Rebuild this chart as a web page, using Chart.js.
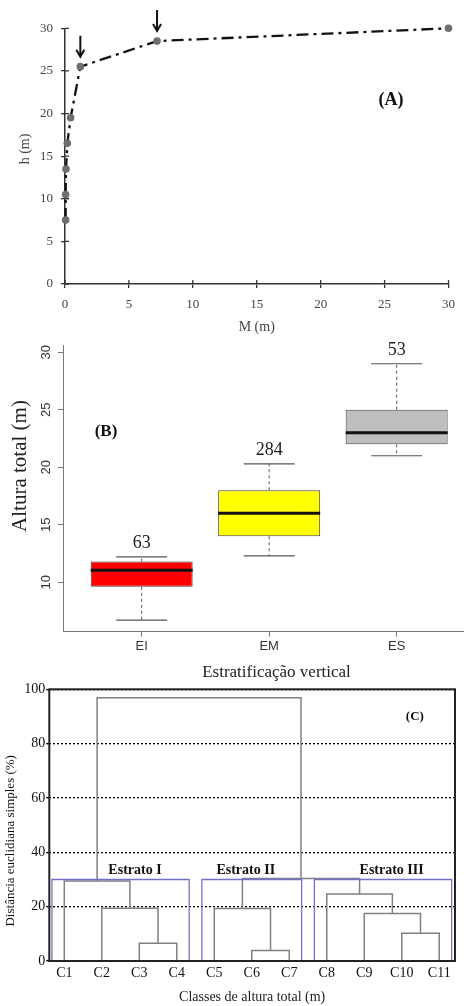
<!DOCTYPE html>
<html>
<head>
<meta charset="utf-8">
<script src="https://cdn.jsdelivr.net/npm/chart.js@4.4.1/dist/chart.umd.min.js"></script>
<style>
  body { margin: 0; background: #fff; width: 464px; height: 1006px; position: relative; overflow: hidden; }
  canvas { position: absolute; left: 0; }
</style>
</head>
<body>
<canvas id="chartA" width="464" height="340" style="top:0px"></canvas>
<canvas id="chartB" width="464" height="360" style="top:330px"></canvas>
<canvas id="chartC" width="464" height="330" style="top:676px"></canvas>
<script>
// Panel A: h vs M
const massM = [0.05, 0.05, 0.08, 0.18, 0.44, 1.2, 7.2, 30];
const heightH = [7.5, 10.5, 13.5, 16.5, 19.5, 25.5, 28.5, 30];
const arrowPoints = [5, 6];
const ticksA = [0, 5, 10, 15, 20, 25, 30];

// Panel B: boxplots per stratum
const strata = ['EI', 'EM', 'ES'];
const whiskerLow = [6.7, 12.3, 21];
const quart1 = [9.6, 14, 22];
const medians = [11.05, 16, 23];
const quart3 = [11.8, 18, 25];
const whiskerHigh = [12.2, 20.3, 29];
const counts = [63, 284, 53];
const ticksB = [10, 15, 20, 25, 30];

// Panel C: dendrogram (hclust style merge table, negative = leaf)
const classes = ['C1', 'C2', 'C3', 'C4', 'C5', 'C6', 'C7', 'C8', 'C9', 'C10', 'C11'];
const mergeLeft = [-3, -6, -10, -2, -5, -9, -8, -1, 5, 8];
const mergeRight = [-4, -7, -11, 1, 2, 3, 6, 4, 7, 9];
const mergeHeight = [6.5, 3.9, 10.2, 19.4, 19.3, 17.5, 24.7, 29.4, 30.4, 96.9];
const groupNames = ['Estrato I', 'Estrato II', 'Estrato III'];
const groupFirst = [1, 5, 8];
const groupLast = [4, 7, 11];
const cutHeight = 30;
const ticksC = [0, 20, 40, 60, 80, 100];

const SERIF = '"Liberation Serif", "Times New Roman", serif';
const SANS = '"Liberation Sans", Arial, sans-serif';

function fixedSize(size) {
  return scale => { if (scale.isHorizontal()) scale.height = size; else scale.width = size; };
}
function setTicks(values) {
  return scale => { scale.ticks = values.map(v => ({ value: v })); };
}

// free text (titles, panel letters); xv/yv are data values, x/y pixels
function textPlugin(id, items) {
  return {
    id: id,
    afterDraw(chart) {
      const ctx = chart.ctx;
      items.forEach(t => {
        const x = t.xv !== undefined ? chart.scales.x.getPixelForValue(t.xv) : t.x;
        const y = t.yv !== undefined ? chart.scales.y.getPixelForValue(t.yv) : t.y;
        ctx.save();
        ctx.translate(x, y);
        if (t.rot) ctx.rotate(t.rot);
        ctx.font = t.font;
        ctx.fillStyle = t.color || '#111';
        ctx.textAlign = 'center';
        ctx.textBaseline = 'middle';
        ctx.fillText(t.text, 0, 0);
        ctx.restore();
      });
    }
  };
}

const baseOpts = {
  responsive: false,
  animation: false,
  events: [],
  plugins: { legend: { display: false }, tooltip: { enabled: false } }
};

// ---------- Panel A ----------
const innerTicksA = {
  id: 'innerTicksA',
  beforeDatasetsDraw(chart) {
    const { ctx, chartArea, scales } = chart;
    ctx.save();
    ctx.strokeStyle = '#333';
    ctx.lineWidth = 1.3;
    ctx.beginPath();
    ticksA.forEach(v => {
      const px = scales.x.getPixelForValue(v);
      ctx.moveTo(px, chartArea.bottom);
      ctx.lineTo(px, chartArea.bottom - 4);
      const py = scales.y.getPixelForValue(v);
      ctx.moveTo(chartArea.left, py);
      ctx.lineTo(chartArea.left + 4, py);
    });
    ctx.stroke();
    ctx.restore();
  }
};

const arrowsA = {
  id: 'arrowsA',
  afterDatasetsDraw(chart) {
    const ctx = chart.ctx;
    const meta = chart.getDatasetMeta(0);
    ctx.save();
    ctx.strokeStyle = '#111';
    ctx.lineWidth = 2;
    arrowPoints.forEach(i => {
      const p = meta.data[i];
      const tip = p.y - 10;
      ctx.beginPath();
      ctx.moveTo(p.x, tip - 21);
      ctx.lineTo(p.x, tip);
      ctx.moveTo(p.x - 4, tip - 7);
      ctx.lineTo(p.x, tip);
      ctx.lineTo(p.x + 4, tip - 7);
      ctx.stroke();
    });
    ctx.restore();
  }
};

new Chart(document.getElementById('chartA'), {
  type: 'line',
  data: {
    datasets: [{
      data: massM.map((m, i) => ({ x: m, y: heightH[i] })),
      borderColor: '#111',
      borderWidth: 2.3,
      borderDash: [12, 5, 3, 5],
      pointRadius: 3.8,
      pointBackgroundColor: '#6e6e6e',
      pointBorderWidth: 0,
      tension: 0,
      clip: false
    }]
  },
  options: {
    ...baseOpts,
    layout: { padding: { left: 0, right: 10, top: 28.3, bottom: 4 } },
    scales: {
      x: {
        type: 'linear', min: 0, max: 30,
        afterFit: fixedSize(52),
        afterBuildTicks: setTicks(ticksA),
        grid: { drawOnChartArea: false, tickLength: 4, color: '#333', lineWidth: 1.3 },
        border: { color: '#333', width: 1.5 },
        ticks: { color: '#444', font: { family: SERIF, size: 13 }, padding: 9, maxRotation: 0 },
        title: { display: true, text: 'M (m)', color: '#444', font: { family: SERIF, size: 14 }, padding: 0 }
      },
      y: {
        type: 'linear', min: 0, max: 30,
        afterFit: fixedSize(65),
        afterBuildTicks: setTicks(ticksA),
        grid: { drawOnChartArea: false, tickLength: 4, color: '#333', lineWidth: 1.3 },
        border: { color: '#333', width: 1.5 },
        ticks: { color: '#444', font: { family: SERIF, size: 13 }, padding: 8 }
      }
    }
  },
  plugins: [innerTicksA, arrowsA, textPlugin('textA', [
    { text: 'h (m)', x: 25, y: 149, rot: -Math.PI / 2, font: '14px ' + SERIF, color: '#444' },
    { text: '(A)', xv: 25.5, yv: 21.6, font: 'bold 18px ' + SERIF, color: '#111' }
  ])]
});

// ---------- Panel B ----------
const boxHalf = 0.4, capHalf = 0.2;
function segments(list) {
  const out = [];
  list.forEach(([a, b]) => {
    out.push({ x: a[0], y: a[1] }, { x: b[0], y: b[1] }, { x: b[0], y: null });
  });
  return out;
}

const countLabels = {
  id: 'countLabels',
  afterDatasetsDraw(chart) {
    const { ctx, scales } = chart;
    ctx.save();
    ctx.font = '18px ' + SERIF;
    ctx.fillStyle = '#222';
    ctx.textAlign = 'center';
    ctx.textBaseline = 'alphabetic';
    counts.forEach((n, i) => {
      ctx.fillText(String(n), scales.x.getPixelForValue(i), scales.y.getPixelForValue(whiskerHigh[i]) - 9);
    });
    ctx.restore();
  }
};

new Chart(document.getElementById('chartB'), {
  type: 'bar',
  data: {
    datasets: [
      {
        type: 'line', order: 0,
        data: segments(strata.map((s, i) => [[i - boxHalf, medians[i]], [i + boxHalf, medians[i]]])),
        borderColor: '#111', borderWidth: 3, pointRadius: 0
      },
      {
        type: 'line', order: 1,
        data: segments(strata.flatMap((s, i) => [
          [[i - capHalf, whiskerHigh[i]], [i + capHalf, whiskerHigh[i]]],
          [[i - capHalf, whiskerLow[i]], [i + capHalf, whiskerLow[i]]]
        ])),
        borderColor: '#555', borderWidth: 1.2, pointRadius: 0
      },
      {
        type: 'line', order: 1,
        data: segments(strata.flatMap((s, i) => [
          [[i, quart3[i]], [i, whiskerHigh[i]]],
          [[i, quart1[i]], [i, whiskerLow[i]]]
        ])),
        borderColor: '#555', borderWidth: 1, borderDash: [3, 3], pointRadius: 0
      },
      {
        type: 'bar', order: 2,
        data: strata.map((s, i) => ({ x: i, y: [quart1[i], quart3[i]] })),
        backgroundColor: ['#ff0000', '#ffff00', '#bebebe'],
        borderColor: '#444', borderWidth: 1, borderSkipped: false,
        barPercentage: 1, categoryPercentage: 0.8
      }
    ]
  },
  options: {
    ...baseOpts,
    layout: { padding: { left: 0, right: 0, top: 15, bottom: 18.3 } },
    scales: {
      x: {
        type: 'linear', min: -0.617, max: 2.528, offset: false,
        afterFit: fixedSize(40),
        afterBuildTicks: setTicks(strata.map((s, i) => i)),
        grid: { drawOnChartArea: false, tickLength: 5, color: '#777', offset: false },
        border: { color: '#777', width: 1 },
        ticks: { callback: (v, i) => strata[i], color: '#333', font: { family: SANS, size: 13 }, padding: 2, maxRotation: 0 }
      },
      y: {
        type: 'linear', min: 5.7, max: 30.63, beginAtZero: false,
        afterFit: fixedSize(63),
        afterBuildTicks: setTicks(ticksB),
        grid: { drawOnChartArea: false, tickLength: 5, color: '#777' },
        border: { color: '#777', width: 1 },
        ticks: { minRotation: 90, maxRotation: 90, crossAlign: 'center', color: '#333', font: { family: SANS, size: 13 }, padding: 4 }
      }
    }
  },
  plugins: [countLabels, textPlugin('textB', [
    { text: '(B)', xv: -0.28, yv: 23.1, font: 'bold 17px ' + SERIF, color: '#111' },
    { text: 'Altura total (m)', x: 20, y: 136, rot: -Math.PI / 2, font: '21px ' + SERIF, color: '#222' },
    { text: 'Estratificação vertical', x: 276.5, y: 343, font: '17px ' + SERIF, color: '#222' }
  ])]
});

// ---------- Panel C ----------
const nodeX = [];
function nodePos(id) {
  return id < 0 ? { x: -id, h: 0 } : { x: nodeX[id - 1], h: mergeHeight[id - 1] };
}
const linkSets = mergeHeight.map((h, k) => {
  const a = nodePos(mergeLeft[k]);
  const b = nodePos(mergeRight[k]);
  nodeX[k] = (a.x + b.x) / 2;
  return {
    data: [{ x: a.x, y: a.h }, { x: a.x, y: h }, { x: b.x, y: h }, { x: b.x, y: b.h }],
    borderColor: '#808080', borderWidth: 1.5, pointRadius: 0, tension: 0
  };
});
const boxPad = 0.33;
const groupSets = groupNames.map((g, i) => {
  const x0 = groupFirst[i] - boxPad, x1 = groupLast[i] + boxPad;
  return {
    data: [{ x: x0, y: 0 }, { x: x0, y: cutHeight }, { x: x1, y: cutHeight }, { x: x1, y: 0 }, { x: x0, y: 0 }],
    borderColor: '#7272c8', borderWidth: 1.3, pointRadius: 0, tension: 0
  };
});
const groupLabelX = [2.885, 5.84, 9.73];

const frameC = {
  id: 'frameC',
  afterDatasetsDraw(chart) {
    const { ctx, chartArea: a } = chart;
    ctx.save();
    ctx.strokeStyle = '#222';
    ctx.lineWidth = 2;
    ctx.strokeRect(a.left, a.top, a.right - a.left, a.bottom - a.top);
    ctx.restore();
  }
};

new Chart(document.getElementById('chartC'), {
  type: 'line',
  data: { datasets: [...groupSets, ...linkSets] },
  options: {
    ...baseOpts,
    layout: { padding: { left: 0, right: 9, top: 13.3, bottom: 0 } },
    scales: {
      x: {
        type: 'linear', min: 0.6, max: 11.42,
        afterFit: fixedSize(45),
        afterBuildTicks: setTicks(classes.map((c, i) => i + 1)),
        grid: { display: false, drawTicks: false },
        border: { display: false },
        ticks: { callback: (v, i) => classes[i], color: '#111', font: { family: SERIF, size: 14 }, padding: 4, autoSkip: false, maxRotation: 0 },
        title: { display: true, text: 'Classes de altura total (m)', color: '#222', font: { family: SERIF, size: 14 }, padding: 0 }
      },
      y: {
        type: 'linear', min: 0, max: 100,
        afterFit: fixedSize(49.3),
        afterBuildTicks: setTicks(ticksC),
        grid: { color: '#000', lineWidth: 1.3, tickLength: 3, tickColor: '#000', tickWidth: 1.5 },
        border: { display: false, dash: [2, 2] },
        ticks: { color: '#111', font: { family: SERIF, size: 14 }, padding: 1 }
      }
    }
  },
  plugins: [frameC, textPlugin('textC', [
    ...groupNames.map((g, i) => ({ text: g, xv: groupLabelX[i], yv: 33.5, font: 'bold 14px ' + SERIF, color: '#111' })),
    { text: '(C)', xv: 10.35, yv: 89.9, font: 'bold 13px ' + SERIF, color: '#111' },
    { text: 'Distância euclidiana simples (%)', x: 10.7, y: 164.8, rot: -Math.PI / 2, font: '13px ' + SERIF, color: '#111' }
  ])]
});
</script>
</body>
</html>
